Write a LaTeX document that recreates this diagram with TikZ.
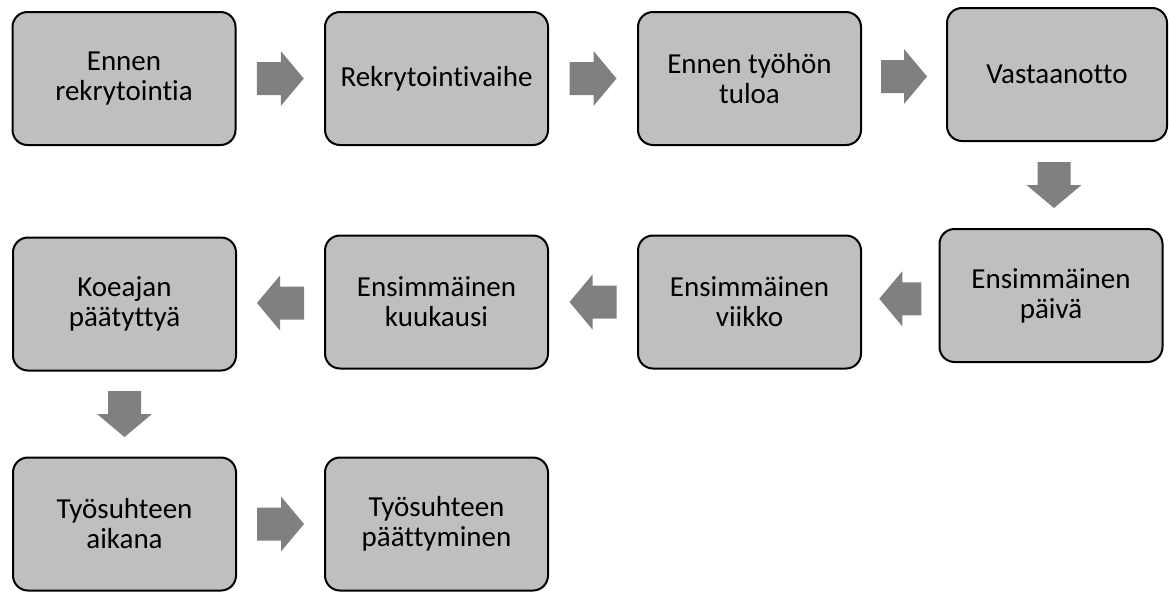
\documentclass[tikz,border=0pt]{standalone}
\usepackage{fontspec}
\setmainfont{Carlito}[Ligatures={NoCommon,NoRequired,NoContextual},RawFeature={-liga;-clig;-calt;-dlig}]
\usetikzlibrary{calc}

\definecolor{boxfill}{RGB}{191,191,191}
\definecolor{arrowfill}{RGB}{128,128,128}

\tikzset{
  stage/.style={draw=black, line width=2pt, fill=boxfill, rounded corners=15pt,
    minimum width=223pt, minimum height=133pt, align=center, inner sep=0pt,
    text=black, font=\fontsize{29}{30}\selectfont},
  flowarrow/.style={fill=arrowfill, draw=none},
}

% Block arrow centred between two anchors: [extra shift]{from}{to}{angle}{length}
\newcommand\blockarrow[5][]{%
  \path ($#2!0.5!#3$) coordinate (mid);
  \fill[flowarrow, #1, shift={(mid)}, rotate=#4]
    ({-#5/2},-16.5) -- ({#5/2-23},-16.5) -- ({#5/2-23},-27.5) -- ({#5/2},0)
    -- ({#5/2-23},27.5) -- ({#5/2-23},16.5) -- ({-#5/2},16.5) -- cycle;
}

\begin{document}
\begin{tikzpicture}[x=1pt, y=-1pt]
  \useasboundingbox (0,0) rectangle (1169,592);

  % first row
  \node[stage] (b1) at (124,78.5)   {Ennen\\rekrytointia};
  \node[stage] (b2) at (436.5,78.5) {Rekrytointivaihe};
  \node[stage] (b3) at (749.5,78.5) {Ennen työhön\\tuloa};
  \node[stage, minimum width=220pt] (b4) at (1057,74.5) {Vastaanotto};

  % second row
  \node[stage] (b5) at (1051,295.5) {Ensimmäinen\\päivä};
  \node[stage] (b6) at (749.5,302)  {Ensimmäinen\\viikko};
  \node[stage] (b7) at (436.5,302)  {Ensimmäinen\\kuukausi};
  \node[stage] (b8) at (124.5,304)  {Koeajan\\päätyttyä};

  % third row
  \node[stage] (b9)  at (124.5,524) {Työsuhteen\\aikana};
  \node[stage] (b10) at (436.5,524) {Työsuhteen\\päättyminen};

  % arrows between the stages
  \blockarrow[xshift=-1.5pt]{(b1.east)}{(b2.west)}{0}{47}
  \blockarrow[xshift=-1.5pt]{(b2.east)}{(b3.west)}{0}{47}
  \blockarrow{(b3.east)}{(b4.west)}{0}{46}
  \blockarrow[xshift=12.5pt, yshift=4pt]{(b4.south)}{(b5.north)}{-90}{46}
  \blockarrow{(b5.west)}{(b6.east)}{180}{42}
  \blockarrow[xshift=1.5pt]{(b6.west)}{(b7.east)}{180}{47}
  \blockarrow[xshift=2pt]{(b7.west)}{(b8.east)}{180}{47}
  \blockarrow{(b8.south)}{(b9.north)}{-90}{46}
  \blockarrow[xshift=-2pt]{(b9.east)}{(b10.west)}{0}{47}
\end{tikzpicture}
\end{document}
